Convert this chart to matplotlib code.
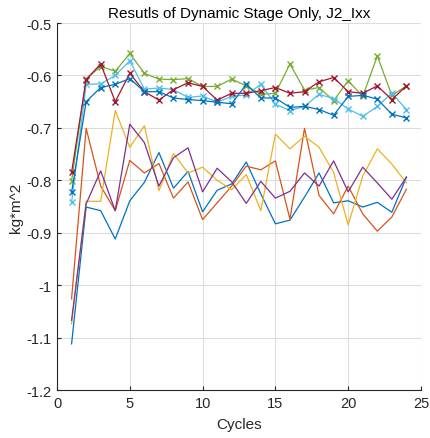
import matplotlib
matplotlib.use("Agg")
import matplotlib.pyplot as plt
import numpy as np

cycles = list(range(1, 25))

# series without markers
s_blue = [-1.112, -0.851, -0.858, -0.912, -0.839, -0.804, -0.747, -0.815, -0.783, -0.860,
          -0.819, -0.807, -0.765, -0.826, -0.883, -0.876, -0.832, -0.786, -0.843, -0.839,
          -0.851, -0.842, -0.861, -0.794]
s_orange = [-1.026, -0.701, -0.811, -0.858, -0.762, -0.786, -0.768, -0.834, -0.803, -0.875,
            -0.843, -0.811, -0.773, -0.780, -0.763, -0.874, -0.701, -0.829, -0.864, -0.811,
            -0.864, -0.897, -0.870, -0.817]
s_yellow = [-1.074, -0.840, -0.840, -0.667, -0.737, -0.696, -0.820, -0.749, -0.786, -0.775,
            -0.800, -0.818, -0.789, -0.858, -0.712, -0.740, -0.716, -0.737, -0.785, -0.885,
            -0.792, -0.740, -0.769, -0.805]
s_purple = [-1.067, -0.845, -0.782, -0.858, -0.693, -0.728, -0.811, -0.757, -0.738, -0.822,
            -0.777, -0.803, -0.844, -0.802, -0.834, -0.821, -0.786, -0.811, -0.763, -0.822,
            -0.775, -0.805, -0.836, -0.794]

# series with x markers
m_green = [-0.801, -0.606, -0.583, -0.592, -0.558, -0.596, -0.607, -0.608, -0.606, -0.621,
           -0.621, -0.607, -0.620, -0.636, -0.634, -0.578, -0.628, -0.623, -0.648, -0.610,
           -0.640, -0.563, -0.638, -0.620]
m_cyan = [-0.842, -0.617, -0.616, -0.600, -0.572, -0.626, -0.624, -0.627, -0.642, -0.639,
          -0.651, -0.640, -0.637, -0.617, -0.655, -0.667, -0.659, -0.636, -0.644, -0.664,
          -0.678, -0.659, -0.634, -0.665]
m_darkred = [-0.785, -0.608, -0.578, -0.650, -0.596, -0.631, -0.647, -0.627, -0.614, -0.621,
             -0.647, -0.634, -0.634, -0.629, -0.623, -0.634, -0.631, -0.612, -0.604, -0.631,
             -0.634, -0.620, -0.646, -0.620]
m_blue = [-0.823, -0.650, -0.623, -0.617, -0.606, -0.631, -0.631, -0.643, -0.646, -0.648,
          -0.651, -0.654, -0.617, -0.643, -0.643, -0.661, -0.659, -0.665, -0.676, -0.640,
          -0.638, -0.645, -0.674, -0.681]

title = "Resutls of Dynamic Stage Only, J2_Ixx"
xlabel = "Cycles"
ylabel = "kg*m^2"
xticks = [0, 5, 10, 15, 20, 25]
yticks = [-1.2, -1.1, -1.0, -0.9, -0.8, -0.7, -0.6, -0.5]
yticklabels = ["-1.2", "-1.1", "-1", "-0.9", "-0.8", "-0.7", "-0.6", "-0.5"]

plt.rcParams['font.family'] = ['Liberation Sans', 'DejaVu Sans']

fig = plt.figure(figsize=(4.30, 4.39), dpi=100)
ax = fig.add_axes([0.1326, 0.1093, 0.979 - 0.1326, 0.9453 - 0.1093])

plain = [(s_blue, '#0072BD'), (s_orange, '#D95319'), (s_yellow, '#EDB120'), (s_purple, '#7E2F8E')]
marked = [(m_green, '#77AC30'), (m_cyan, '#4DBEEE'), (m_darkred, '#A2142F'), (m_blue, '#0072BD')]

for data, c in plain:
    ax.plot(cycles, data, color=c, lw=0.9)
for data, c in marked:
    ax.plot(cycles, data, color=c, lw=0.9, marker='x', ms=5, mew=1.0)

ax.set_xlim(0, 25)
ax.set_ylim(-1.2, -0.5)
ax.set_xticks(xticks)
ax.set_yticks(yticks)
ax.set_yticklabels(yticklabels)
ax.grid(True, color='#dcdcdc', lw=0.8)
ax.set_axisbelow(True)
for s in ['top', 'right']:
    ax.spines[s].set_visible(False)
for s in ['left', 'bottom']:
    ax.spines[s].set_color('#262626')
    ax.spines[s].set_linewidth(0.8)
ax.tick_params(direction='in', length=3, colors='#262626', labelsize=10.5, width=0.8, pad=4)
ax.set_title(title, fontsize=11, color='#000000', pad=4)
ax.set_xlabel(xlabel, fontsize=11, color='#262626', labelpad=5)
ax.set_ylabel(ylabel, fontsize=11, color='#262626', labelpad=2)

fig.savefig("out.png", dpi=100)
